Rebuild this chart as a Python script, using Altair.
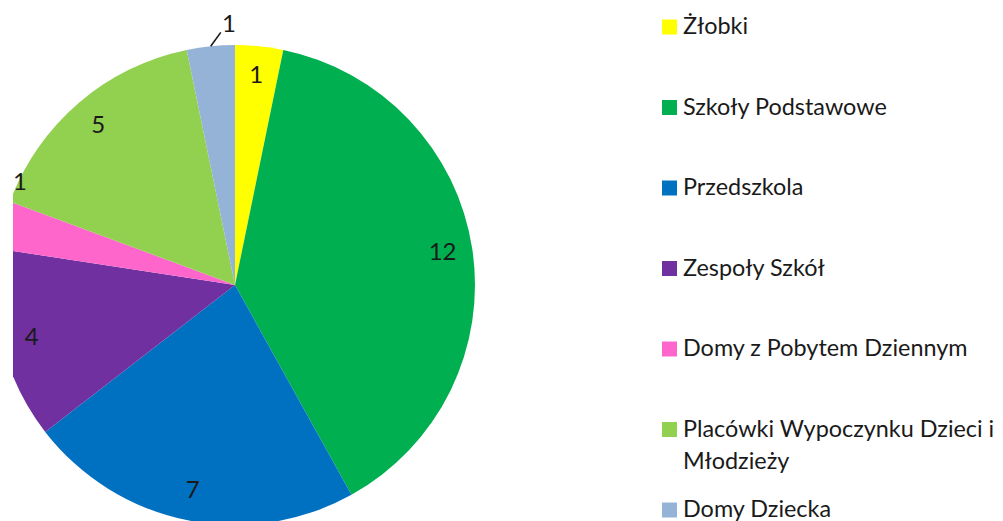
import altair as alt
import pandas as pd

categories = [
    "Żłobki",
    "Szkoły Podstawowe",
    "Przedszkola",
    "Zespoły Szkół",
    "Domy z Pobytem Dziennym",
    "Placówki Wypoczynku Dzieci i Młodzieży",
    "Domy Dziecka",
]
values = [1, 12, 7, 4, 1, 5, 1]
legend_labels = [
    "Żłobki",
    "Szkoły Podstawowe",
    "Przedszkola",
    "Zespoły Szkół",
    "Domy z Pobytem Dziennym",
    "Placówki Wypoczynku Dzieci i\nMłodzieży",
    "Domy Dziecka",
]
colors = ["#FFFF00", "#00B050", "#0070C0", "#7030A0", "#FF66CC", "#92D050", "#95B3D7"]

df = pd.DataFrame({
    "cat": categories,
    "value": values,
    "idx": list(range(len(categories))),
    "leg": legend_labels,
})

CX, CY, R = 222, 272, 240
FONT = "Lato"
FS = 24
LFS = 23.4
TXT = "#1a1a1a"

color = alt.Color("cat:N", scale=alt.Scale(domain=categories, range=colors), legend=None)
base = alt.Chart(df)

arcs = base.mark_arc(clip=True, radius=R).encode(
    theta=alt.Theta("value:Q", stack=True),
    order=alt.Order("idx:Q"),
    color=color,
    x=alt.value(CX),
    y=alt.value(CY),
)

PINK = categories[4]
DD = categories[6]

polar = (
    base.transform_joinaggregate(total="sum(value)")
    .transform_window(cum="sum(value)", sort=[alt.SortField("idx")], frame=[None, 0])
    .transform_calculate(mid="(datum.cum - datum.value/2)/datum.total*2*PI")
)

labels = (
    polar.transform_calculate(
        lr=f"datum.cat=='{PINK}' ? 238 : datum.cat=='{DD}' ? 260 : 210",
        la=f"datum.mid + (datum.cat=='{PINK}' ? 0.19 : datum.cat=='{DD}' ? 0.0785 : 0)",
    )
    .transform_calculate(
        lx=f"{CX} + datum.lr*sin(datum.la)",
        ly=f"{CY} - datum.lr*cos(datum.la)",
    )
    .mark_text(font=FONT, fontSize=FS, color=TXT, align="center", baseline="middle")
    .encode(
        x=alt.X("lx:Q", scale=None, axis=None),
        y=alt.Y("ly:Q", scale=None, axis=None),
        text="value:Q",
    )
)

leader = (
    polar.transform_filter(f"datum.cat=='{DD}'")
    .transform_calculate(
        x1=f"{CX} + {R}*sin(datum.mid)",
        y1=f"{CY} - {R}*cos(datum.mid)",
        x2=f"{CX} + 253*sin(datum.mid + 0.045)",
        y2=f"{CY} - 253*cos(datum.mid + 0.045)",
    )
    .mark_rule(color=TXT, strokeWidth=1.6)
    .encode(
        x=alt.X("x1:Q", scale=None, axis=None),
        y=alt.Y("y1:Q", scale=None, axis=None),
        x2="x2:Q",
        y2="y2:Q",
    )
)

legend_base = base.transform_calculate(ry="14 + datum.idx*80.5")

leg_sym = legend_base.mark_square(size=225, opacity=1).encode(
    x=alt.value(656.5),
    y=alt.Y("ry:Q", scale=None, axis=None),
    color=color,
)

leg_txt = legend_base.mark_text(
    font=FONT, fontSize=LFS, color=TXT, align="left", baseline="top",
    dy=-11, lineBreak="\n", lineHeight=32,
).encode(
    x=alt.value(670),
    y=alt.Y("ry:Q", scale=None, axis=None),
    text="leg:N",
)

chart = (
    alt.layer(arcs, labels, leader, leg_sym, leg_txt)
    .properties(
        width=977,
        height=508,
        padding={"left": 5, "top": 5, "right": 5, "bottom": 0},
        autosize=alt.AutoSizeParams(type="none"),
        background="white",
    )
    .configure_view(stroke=None)
)

chart.save("out.html", embed_options={"renderer": "svg", "actions": False})
